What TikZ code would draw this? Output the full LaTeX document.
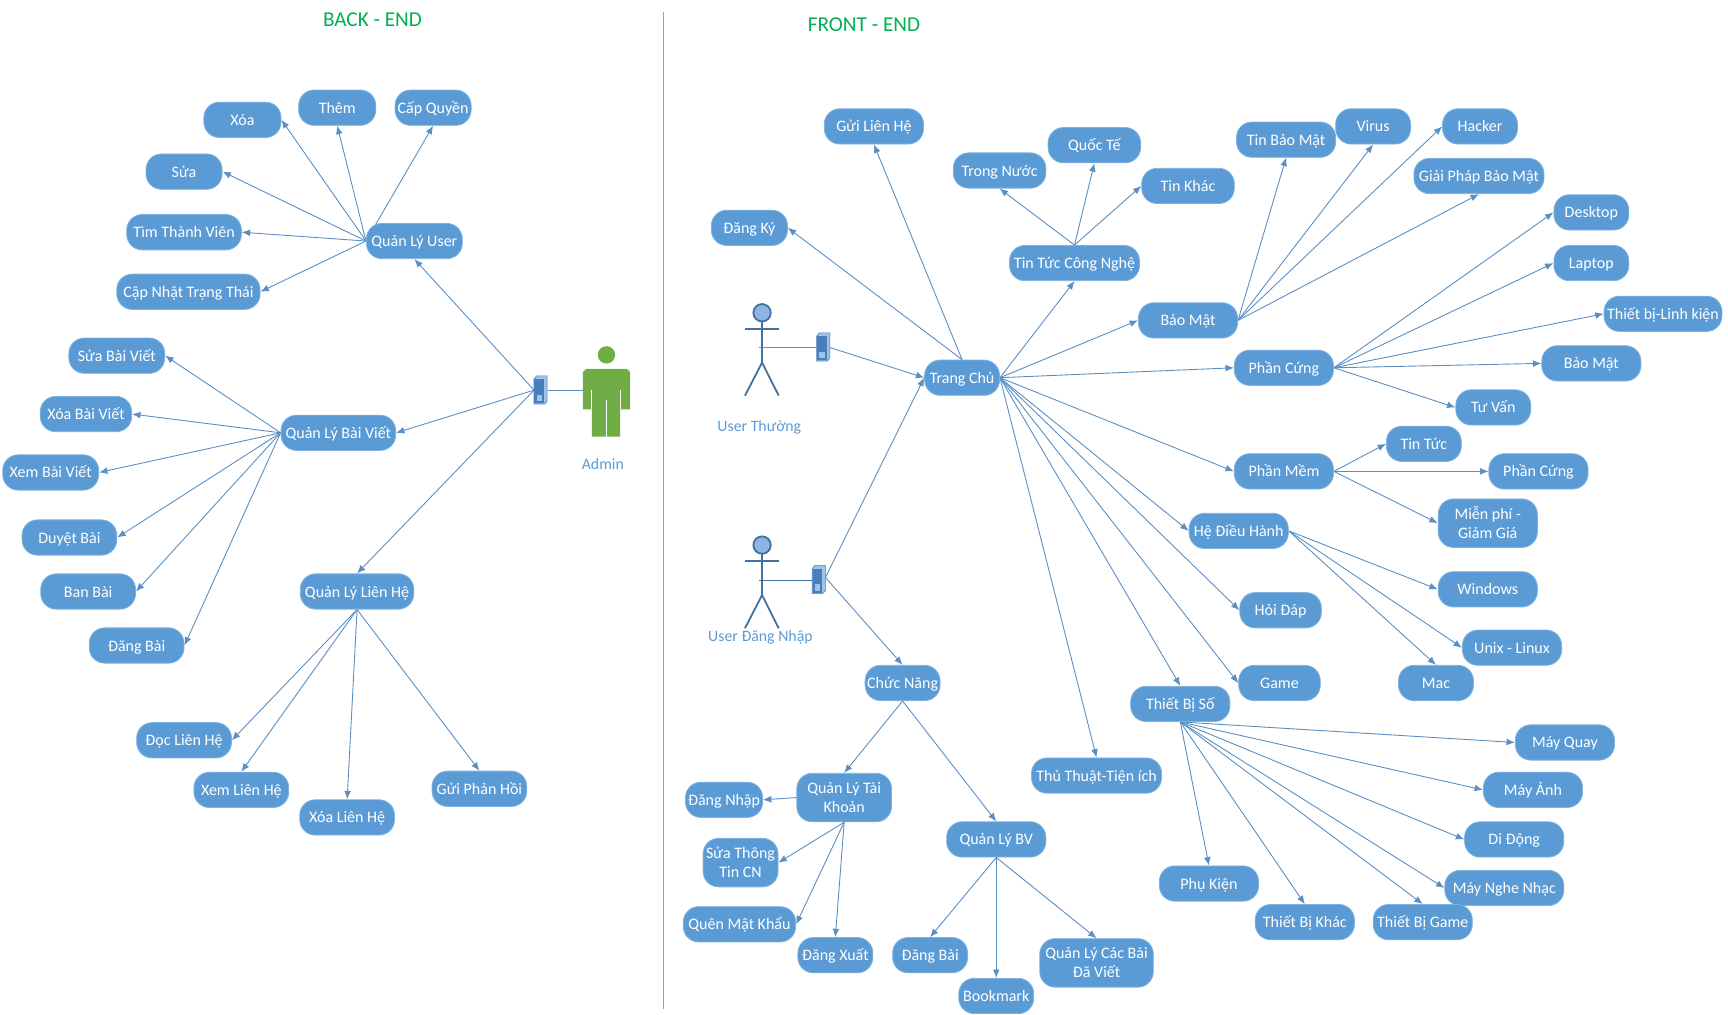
\documentclass[tikz,border=0pt]{standalone}
\usepackage{fontspec}
\setmainfont{Carlito}
\usetikzlibrary{arrows.meta}
\pgfdeclarelayer{bg}
\pgfsetlayers{bg,main}
\definecolor{pillblue}{HTML}{5B9BD5}
\definecolor{pilledge}{HTML}{7FB2E0}
\definecolor{linkblue}{HTML}{5B8FC4}
\definecolor{actorblue}{HTML}{41719C}
\definecolor{actorfill}{HTML}{8DB4E2}
\definecolor{srvfront}{HTML}{4A7EBB}
\definecolor{srvside}{HTML}{9DC3E6}
\definecolor{adminfill}{HTML}{70AD47}
\definecolor{titlegreen}{HTML}{00B050}
\tikzset{
	pill/.style={fill=pillblue, draw=pilledge, line width=0.4pt, text=white, rounded corners=7.7pt, inner sep=0pt, yshift=-0.4pt, minimum height=32*0.551pt, minimum width=90*0.551pt, align=center, text height=5.5pt, text depth=0pt, font=\fontsize{8}{9.4}\selectfont},
	wide/.style={minimum width=#1*0.551pt},
	tall/.style={minimum height=44*0.551pt, text height=14.9pt},
	link/.style={draw=linkblue, line width=0.45pt, -{Latex[length=4.2pt,width=3.4pt]}},
	actorline/.style={draw=actorblue, line width=0.9pt},
	caption/.style={text=pillblue, text height=5.5pt, text depth=0pt, font=\fontsize{7.9}{9}\selectfont},
	heading/.style={text=titlegreen, font=\fontsize{10.6}{12}\selectfont}
}
% server box, #1 #2 = top left corner
\def\serverbox(#1,#2){
	\fill[srvside, draw=srvfront, line width=0.3pt] (#1+0.5, #2+3) -- (#1+3, #2) -- (#1+12.5, #2) -- (#1+12.5, #2+23) -- (#1+10, #2+25.6) -- (#1+0.5, #2+25.6) -- cycle;
	\fill[srvfront] (#1+1, #2+3) rectangle (#1+9.5, #2+25);
	\fill[srvside] (#1+3, #2+17) rectangle (#1+8, #2+23);
}
\begin{document}
\begin{tikzpicture}[x=0.551pt, y=-0.551pt]
			%%%%% START %%%%%
			\useasboundingbox (0, 0) rectangle (1568, 921);
			
			\node[heading] (backend) at (338, 17.5) {BACK - END};
			\node[heading] (frontend) at (784, 22.5) {FRONT - END};
			\coordinate (divtop) at (602, 11);
			\coordinate (divbottom) at (602, 916);
			\draw[draw=linkblue!80, line width=0.7pt] (divtop) -- (divbottom);
			
			% back end nodes
			\node[pill, wide=70] (xoa) at (220, 108) {Xóa};
			\node[pill, wide=70] (them) at (306, 97) {Thêm};
			\node[pill, wide=69] (capquyen) at (393, 97) {Cấp Quyền};
			\node[pill, wide=69] (sua) at (167, 155) {Sửa};
			\node[pill, wide=104] (timtv) at (167, 210) {Tìm Thành Viên};
			\node[pill, wide=130] (capnhat) at (171, 264) {Cập Nhật Trạng Thái};
			\node[pill, wide=87] (qluser) at (376, 218) {Quản Lý User};
			
			\node[pill, wide=87] (suabv) at (106, 322) {Sửa Bài Viết};
			\node[pill, wide=83] (xoabv) at (78, 375) {Xóa Bài Viết};
			\node[pill, wide=87] (xembv) at (46, 428) {Xem Bài Viết};
			\node[pill, wide=86] (duyet) at (63, 487) {Duyệt Bài};
			\node[pill, wide=86] (banbai) at (80, 536) {Ban Bài};
			\node[pill, wide=86] (dangbai) at (124, 585) {Đăng Bài};
			\node[pill, wide=104] (qlbaiviet) at (307, 392) {Quản Lý Bài Viết};
			
			\node[pill, wide=103] (qllienhe) at (324, 536) {Quản Lý Liên Hệ};
			\node[pill, wide=86] (doclh) at (167, 671) {Đọc Liên Hệ};
			\node[pill, wide=86] (xemlh) at (219, 716) {Xem Liên Hệ};
			\node[pill, wide=86] (xoalh) at (315, 741) {Xóa Liên Hệ};
			\node[pill, wide=86] (guiph) at (435, 715) {Gửi Phản Hồi};
			
			% front end nodes
			\node[pill, wide=68] (trangchu) at (873, 342) {Trang Chủ};
			\node[pill] (guilh) at (793, 114) {Gửi Liên Hệ};
			\node[pill, wide=69] (dangky) at (680, 206) {Đăng Ký};
			
			\node[pill, wide=118] (tintuccn) at (975, 238) {Tin Tức Công Nghệ};
			\node[pill, wide=84] (trongnuoc) at (907, 154) {Trong Nước};
			\node[pill, wide=84] (quocte) at (993, 131) {Quốc Tế};
			\node[pill, wide=84] (tinkhac) at (1078, 168) {Tin Khác};
			
			\node[pill] (baomat) at (1078, 290) {Bảo Mật};
			\node[pill] (tinbm) at (1167, 126) {Tin Bảo Mật};
			\node[pill, wide=68] (virus) at (1246, 114) {Virus};
			\node[pill, wide=68] (hacker) at (1343, 114) {Hacker};
			\node[pill, wide=118] (giaiphap) at (1342, 159) {Giải Pháp Bảo Mật};
			
			\node[pill] (phancung) at (1165, 333) {Phần Cứng};
			\node[pill, wide=68] (desktop) at (1444, 192) {Desktop};
			\node[pill, wide=68] (laptop) at (1444, 238) {Laptop};
			\node[pill, wide=107] (thietbi) at (1509, 284) {Thiết bị-Linh kiện};
			\node[pill] (baomathw) at (1444, 329) {Bảo Mật};
			\node[pill, wide=68] (tuvan) at (1355, 369) {Tư Vấn};
			
			\node[pill] (phanmem) at (1165, 427) {Phần Mềm};
			\node[pill, wide=68] (tintuc) at (1292, 402) {Tin Tức};
			\node[pill] (phancungsw) at (1396, 427) {Phần Cứng};
			\node[pill, tall] (mienphi) at (1350, 474) {Miễn phí -\\Giảm Giá};
			
			\node[pill] (hdh) at (1124, 481) {Hệ Điều Hành};
			\node[pill] (windows) at (1350, 534) {Windows};
			\node[pill] (unix) at (1372, 587) {Unix - Linux};
			\node[pill, wide=68] (mac) at (1303, 619) {Mac};
			
			\node[pill, wide=74] (hoidap) at (1162, 553) {Hỏi Đáp};
			\node[pill, wide=74] (game) at (1161, 619) {Game};
			\node[pill, wide=118] (thuthuat) at (995, 703) {Thủ Thuật-Tiện ích};
			
			\node[pill] (thietbiso) at (1071, 638) {Thiết Bị Số};
			\node[pill] (mayquay) at (1420, 673) {Máy Quay};
			\node[pill] (mayanh) at (1391, 716) {Máy Ảnh};
			\node[pill] (didong) at (1374, 761) {Di Động};
			\node[pill, wide=108] (maynhac) at (1365, 805) {Máy Nghe Nhạc};
			\node[pill] (tbgame) at (1291, 836) {Thiết Bị Game};
			\node[pill] (tbkhac) at (1184, 836) {Thiết Bị Khác};
			\node[pill] (phukien) at (1097, 801) {Phụ Kiện};
			
			\node[pill, wide=68] (chucnang) at (819, 619) {Chức Năng};
			\node[pill, wide=86, tall] (qltaikhoan) at (766, 723) {Quản Lý Tài\\Khoản};
			\node[pill, wide=70] (dangnhap) at (657, 725) {Đăng Nhập};
			\node[pill, wide=68, tall] (suatt) at (672, 782) {Sửa Thông\\Tin CN};
			\node[pill, wide=102] (quenmk) at (671, 838) {Quên Mật Khẩu};
			\node[pill, wide=68] (dangxuat) at (758, 866) {Đăng Xuất};
			
			\node[pill] (qlbv) at (904, 761) {Quản Lý BV};
			\node[pill, wide=68] (dangbaiu) at (844, 866) {Đăng Bài};
			\node[pill, wide=68] (bookmark) at (904, 903) {Bookmark};
			\node[pill, wide=103, tall] (qlcacbai) at (995, 873) {Quản Lý Các Bài\\Đã Viết};
			
			% admin
			\fill[adminfill] (550.3, 322) circle (7.9);
			\fill[adminfill] (532, 334.8) -- (569, 334.8) -- (571.7, 337.5) -- (571.7, 371.4) -- (562.8, 371.4) -- (562.8, 396.3) -- (537, 396.3) -- (537, 371.4) -- (529, 371.4) -- (529, 337.5) -- cycle;
			\draw[white, line width=0.4pt] (550.3, 363) -- (550.3, 396.3);
			\draw[white, line width=0.4pt] (537, 354) -- (537, 371.4);
			\draw[white, line width=0.4pt] (562.8, 354) -- (562.8, 371.4);
			\node[caption] (admin) at (547, 421) {Admin};
			\coordinate (adminbody) at (529, 354);
			\coordinate (srvadmin) at (497, 354);
			\coordinate (srvadminleft) at (484.6, 354);
			\draw[draw=linkblue, line width=0.6pt] (srvadmin) -- (adminbody);
			\serverbox(484, 341);
			
			% user thuong
			\draw[actorline, fill=actorfill] (691.5, 283.8) circle (7.9);
			\draw[actorline] (676, 298.7) -- (706.6, 298.7);
			\draw[actorline] (691.5, 291.7) -- (691.5, 329) -- (676, 359);
			\draw[actorline] (691.5, 329) -- (706.6, 359);
			\node[caption] (userthuong) at (689, 386.5) {User Thường};
			\coordinate (actorone) at (688.6, 315);
			\coordinate (srvone) at (740.5, 315);
			\coordinate (srvoneright) at (752, 315);
			\draw[draw=linkblue, line width=0.6pt] (actorone) -- (srvone);
			\serverbox(740.5, 302);
			
			% user dang nhap
			\draw[actorline, fill=actorfill] (691.5, 494.6) circle (7.9);
			\draw[actorline] (676, 509) -- (706.6, 509);
			\draw[actorline] (691.5, 502.5) -- (691.5, 540) -- (676, 570);
			\draw[actorline] (691.5, 540) -- (706.6, 570);
			\node[caption] (userdangnhap) at (690, 577.5) {User Đăng Nhập};
			\coordinate (actortwo) at (688.6, 526.5);
			\coordinate (srvtwo) at (736.5, 526.5);
			\coordinate (srvtworight) at (749, 524);
			\draw[draw=actorblue, line width=0.6pt] (actortwo) -- (srvtwo);
			\serverbox(736.5, 513);
			
			\begin{pgfonlayer}{bg}
			% back end links
			\draw[link] (srvadminleft) -- (qluser.south);
			\draw[link] (srvadminleft) -- (qlbaiviet.east);
			\draw[link] (srvadminleft) -- (qllienhe.north);
			
			\draw[link] (qluser.west) -- (xoa.east);
			\draw[link] (qluser.west) -- (them.south);
			\draw[link] (qluser.west) -- (capquyen.south);
			\draw[link] (qluser.west) -- (sua.east);
			\draw[link] (qluser.west) -- (timtv.east);
			\draw[link] (qluser.west) -- (capnhat.east);
			
			\draw[link] (qlbaiviet.west) -- (suabv.east);
			\draw[link] (qlbaiviet.west) -- (xoabv.east);
			\draw[link] (qlbaiviet.west) -- (xembv.east);
			\draw[link] (qlbaiviet.west) -- (duyet.east);
			\draw[link] (qlbaiviet.west) -- (banbai.east);
			\draw[link] (qlbaiviet.west) -- (dangbai.east);
			
			\draw[link] (qllienhe.south) -- (doclh.east);
			\draw[link] (qllienhe.south) -- (xemlh.north);
			\draw[link] (qllienhe.south) -- (xoalh.north);
			\draw[link] (qllienhe.south) -- (guiph.north);
			
			% front end links
			\draw[link] (srvoneright) -- (trangchu.west);
			\draw[link] (srvtworight) -- (trangchu.west);
			\draw[link] (srvtworight) -- (chucnang.north);
			
			\draw[link] (trangchu.north) -- (guilh.south);
			\draw[link] (trangchu.north) -- (dangky.east);
			\draw[link] (trangchu.east) -- (tintuccn.south);
			\draw[link] (trangchu.east) -- (baomat.west);
			\draw[link] (trangchu.east) -- (phancung.west);
			\draw[link] (trangchu.east) -- (phanmem.west);
			\draw[link] (trangchu.east) -- (hdh.west);
			\draw[link] (trangchu.east) -- (hoidap.west);
			\draw[link] (trangchu.east) -- (game.west);
			\draw[link] (trangchu.east) -- (thietbiso.north);
			\draw[link] (trangchu.east) -- (thuthuat.north);
			
			\draw[link] (tintuccn.north) -- (trongnuoc.south);
			\draw[link] (tintuccn.north) -- (quocte.south);
			\draw[link] (tintuccn.north) -- (tinkhac.west);
			
			\draw[link] (baomat.east) -- (tinbm.south);
			\draw[link] (baomat.east) -- (virus.south);
			\draw[link] (baomat.east) -- (hacker.west);
			\draw[link] (baomat.east) -- (giaiphap.south);
			
			\draw[link] (phancung.east) -- (desktop.west);
			\draw[link] (phancung.east) -- (laptop.west);
			\draw[link] (phancung.east) -- (thietbi.west);
			\draw[link] (phancung.east) -- (baomathw.west);
			\draw[link] (phancung.east) -- (tuvan.west);
			
			\draw[link] (phanmem.east) -- (tintuc.west);
			\draw[link] (phanmem.east) -- (phancungsw.west);
			\draw[link] (phanmem.east) -- (mienphi.west);
			
			\draw[link] (hdh.east) -- (windows.west);
			\draw[link] (hdh.east) -- (unix.west);
			\draw[link] (hdh.east) -- (mac.north);
			
			\draw[link] (thietbiso.south) -- (mayquay.west);
			\draw[link] (thietbiso.south) -- (mayanh.west);
			\draw[link] (thietbiso.south) -- (didong.west);
			\draw[link] (thietbiso.south) -- (maynhac.west);
			\draw[link] (thietbiso.south) -- (tbgame.north);
			\draw[link] (thietbiso.south) -- (tbkhac.north);
			\draw[link] (thietbiso.south) -- (phukien.north);
			
			\draw[link] (chucnang.south) -- (qltaikhoan.north);
			\draw[link] (chucnang.south) -- (qlbv.north);
			
			\draw[link] (qltaikhoan.west) -- (dangnhap.east);
			\draw[link] (qltaikhoan.south) -- (suatt.east);
			\draw[link] (qltaikhoan.south) -- (quenmk.east);
			\draw[link] (qltaikhoan.south) -- (dangxuat.north);
			
			\draw[link] (qlbv.south) -- (dangbaiu.north);
			\draw[link] (qlbv.south) -- (bookmark.north);
			\draw[link] (qlbv.south) -- (qlcacbai.north);
			\end{pgfonlayer}
			
			%%%%% END %%%%%
\end{tikzpicture}
\end{document}
